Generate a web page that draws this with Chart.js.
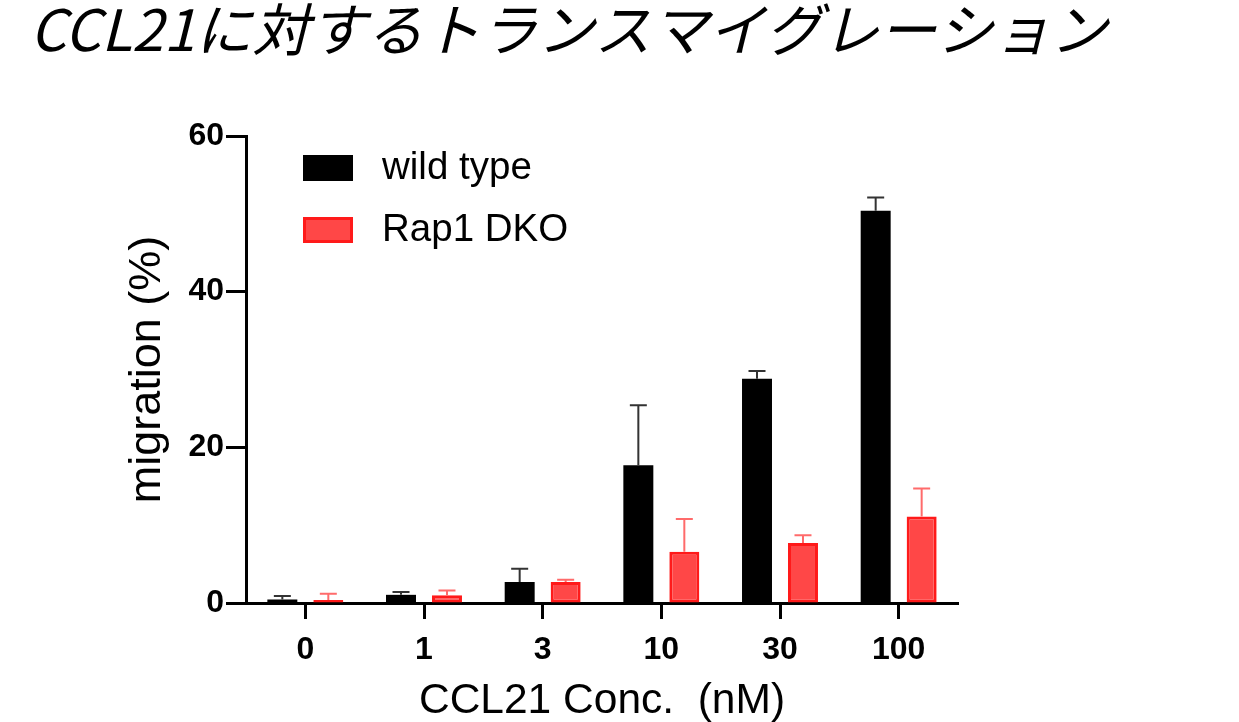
<!DOCTYPE html>
<html lang="ja">
<head>
<meta charset="utf-8">
<title>CCL21に対するトランスマイグレーション</title>
<script src="https://cdn.jsdelivr.net/npm/chart.js@4.4.1/dist/chart.umd.min.js"></script>
<style>
  html, body { margin: 0; padding: 0; background: #fff; }
  canvas { display: block; }
</style>
</head>
<body>
<canvas id="migration-chart" width="1239" height="722"></canvas>
<script>
// CCL21 concentration (nM) and migration (%) with upper SEM
const concentrations = ["0", "1", "3", "10", "30", "100"];
const wildType = [0.45, 1.05, 2.7, 17.7, 28.8, 50.4];
const wildTypeErr = [0.45, 0.35, 1.7, 7.7, 1.0, 1.7];
const rap1Dko = [0.4, 1.0, 2.7, 6.6, 7.7, 11.1];
const rap1DkoErr = [0.8, 0.6, 0.3, 4.2, 1.0, 3.6];
const yTicks = [0, 20, 40, 60];

const tickFont = { family: "'Liberation Sans', Arial, sans-serif", size: 32, weight: "bold" };

// upward error bars on top of each bar
const errorBarsPlugin = {
  id: "errorBars",
  afterDatasetsDraw(chart) {
    const ctx = chart.ctx;
    const yScale = chart.scales.y;
    chart.data.datasets.forEach((ds, i) => {
      const meta = chart.getDatasetMeta(i);
      meta.data.forEach((bar, j) => {
        const top = yScale.getPixelForValue(ds.data[j] + ds.errors[j]);
        ctx.save();
        ctx.strokeStyle = ds.errorColor;
        ctx.lineWidth = 2;
        ctx.beginPath();
        ctx.moveTo(bar.x, bar.y);
        ctx.lineTo(bar.x, top);
        ctx.moveTo(bar.x - 8.5, top);
        ctx.lineTo(bar.x + 8.5, top);
        ctx.stroke();
        ctx.restore();
      });
    });
  },
};

// stacked legend drawn inside the plot, top left
const insideLegendPlugin = {
  id: "insideLegend",
  afterDraw(chart) {
    const ctx = chart.ctx;
    const left = chart.chartArea.left + 57;
    chart.data.datasets.forEach((ds, i) => {
      const top = chart.chartArea.top + 19 + i * 62;
      ctx.save();
      ctx.fillStyle = ds.backgroundColor;
      ctx.fillRect(left, top, 50, 26);
      if (ds.borderWidth) {
        ctx.strokeStyle = ds.borderColor;
        ctx.lineWidth = ds.borderWidth;
        ctx.strokeRect(left + 1.5, top + 1.5, 47, 23);
      }
      ctx.fillStyle = "#000";
      ctx.font = "38.5px 'Liberation Sans', Arial, sans-serif";
      ctx.textBaseline = "middle";
      ctx.fillText(ds.label, left + 79, top + 13);
      ctx.restore();
    });
  },
};

// the right padding keeps the plot narrow; let the title use the full width
const wideTitlePlugin = {
  id: "wideTitle",
  afterLayout(chart) {
    const block = chart.titleBlock;
    if (block) {
      block.right = chart.width;
      block.width = chart.width - block.left;
    }
  },
};

const ctx = document.getElementById("migration-chart");

new Chart(ctx, {
  type: "bar",
  data: {
    labels: concentrations,
    datasets: [
      {
        label: "wild type",
        data: wildType,
        errors: wildTypeErr,
        errorColor: "#333333",
        backgroundColor: "#000000",
        borderWidth: 0,
      },
      {
        label: "Rap1 DKO",
        data: rap1Dko,
        errors: rap1DkoErr,
        errorColor: "#ff6b6b",
        backgroundColor: "#ff4747",
        borderColor: "#ff1a1a",
        borderWidth: 3,
        borderSkipped: false,
      },
    ],
  },
  options: {
    responsive: false,
    animation: false,
    devicePixelRatio: 1,
    categoryPercentage: 0.775,
    barPercentage: 0.652,
    layout: { padding: { left: 30, right: 281, top: 0, bottom: 0 } },
    plugins: {
      legend: { display: false },
      tooltip: { enabled: false },
      title: {
        display: true,
        text: "CCL21に対するトランスマイグレーション",
        align: "start",
        color: "#000",
        font: { family: "'Noto Sans CJK JP', sans-serif", size: 57, style: "italic", weight: "normal", lineHeight: 1 },
        padding: { top: 1, bottom: 78 },
      },
    },
    scales: {
      x: {
        afterFit: (scale) => { scale.height = 119; },
        grid: {
          offset: false,
          drawOnChartArea: false,
          tickLength: 16,
          tickWidth: 3,
          tickColor: "#000",
        },
        border: { display: true, width: 3, color: "#000" },
        ticks: { color: "#000", font: tickFont, padding: 12 },
        title: {
          display: true,
          text: "CCL21 Conc.  (nM)",
          color: "#000",
          font: { family: "'Liberation Sans', Arial, sans-serif", size: 42.5, lineHeight: 1 },
          padding: { top: 0, bottom: -1 },
        },
      },
      y: {
        min: 0,
        max: 60,
        afterFit: (scale) => { scale.width = 216; },
        afterBuildTicks: (scale) => { scale.ticks = yTicks.map((v) => ({ value: v })); },
        grid: {
          drawOnChartArea: false,
          tickLength: 20,
          tickWidth: 3,
          tickColor: "#000",
        },
        border: { display: true, width: 3, color: "#000" },
        ticks: { color: "#000", font: tickFont, padding: 2 },
        title: {
          display: true,
          text: "migration (%)",
          color: "#000",
          font: { family: "'Liberation Sans', Arial, sans-serif", size: 45, lineHeight: 1 },
          padding: { top: 95, bottom: 0 },
        },
      },
    },
  },
  plugins: [errorBarsPlugin, insideLegendPlugin, wideTitlePlugin],
});
</script>
</body>
</html>
